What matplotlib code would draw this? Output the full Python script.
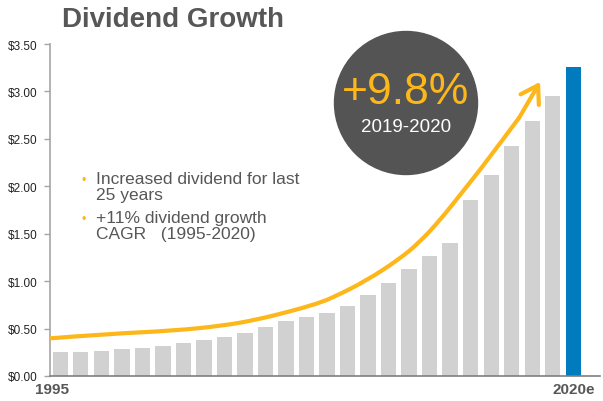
import numpy as np
import matplotlib
matplotlib.use("Agg")
import matplotlib.pyplot as plt
from matplotlib.patches import Ellipse, PathPatch
from matplotlib.path import Path
from matplotlib.transforms import ScaledTranslation

plt.rcParams['font.family'] = ['Liberation Sans', 'DejaVu Sans']

# dividend per share, 1995 - 2020e
years = [str(y) for y in range(1995, 2020)] + ['2020e']
dividends = [0.25, 0.256, 0.267, 0.285, 0.30, 0.316, 0.35, 0.38, 0.414, 0.456,
             0.52, 0.58, 0.62, 0.664, 0.74, 0.853, 0.98, 1.13, 1.26, 1.40,
             1.86, 2.12, 2.42, 2.69, 2.95, 3.26]

# growth trend arrow (x in bar index units, y in dollars)
trend_x = [-0.50, 2.26, 5.50, 7.93, 9.56, 11.18, 12.48, 13.28, 14.91, 16.53,
           17.50, 18.48, 19.45, 20.42, 21.40, 22.37, 23.38]
trend_y = [0.397, 0.443, 0.477, 0.530, 0.593, 0.680, 0.760, 0.826, 1.004, 1.233,
           1.409, 1.637, 1.900, 2.164, 2.445, 2.726, 3.101]

yticks = [0, 0.5, 1.0, 1.5, 2.0, 2.5, 3.0, 3.5]
bullets = ["Increased dividend for last\n25 years",
           "+11% dividend growth\nCAGR   (1995-2020)"]

ORANGE = '#FDB71A'
GRAY_BAR = '#D1D1D1'
BLUE = '#007BBD'
DARK = '#575757'

fig = plt.figure(figsize=(6.03, 4.02), dpi=100)
ax = fig.add_axes([50 / 603, 25 / 402, 550 / 603, 332 / 402])

x = np.arange(len(years))
colors = [GRAY_BAR] * (len(years) - 1) + [BLUE]
ax.bar(x, dividends, width=0.75, color=colors, zorder=2)

ax.set_xlim(-0.5, 26.3)
ax.set_ylim(0, 3.5)
ax.set_yticks(yticks)
ax.set_yticklabels(['${:.2f}'.format(v) for v in yticks], fontsize=8.5, color='#222222')
ax.set_xticks([0, len(years) - 1])
ax.set_xticklabels([years[0], years[-1]], fontsize=11, fontweight='bold', color=DARK)
ax.tick_params(axis='x', length=0, pad=4)
ax.tick_params(axis='y', length=4, width=1, color='#A6A6A6', pad=5)
# nudge the first year label a little to the left
first = ax.get_xticklabels()[0]
first.set_transform(first.get_transform() + ScaledTranslation(-8 / 100, 0, fig.dpi_scale_trans))

for side in ['top', 'right']:
    ax.spines[side].set_visible(False)
ax.spines['left'].set_color('#A6A6A6')
ax.spines['left'].set_linewidth(1.2)
ax.spines['bottom'].set_color('#7F7F7F')
ax.spines['bottom'].set_linewidth(1.2)

# trend line: smooth quadratic path through the midpoints of the points
pts = list(zip(trend_x[:-1], trend_y[:-1]))
verts = [pts[0]]
codes = [Path.MOVETO]
for i in range(1, len(pts) - 1):
    mid = ((pts[i][0] + pts[i + 1][0]) / 2, (pts[i][1] + pts[i + 1][1]) / 2)
    verts += [pts[i], mid]
    codes += [Path.CURVE3, Path.CURVE3]
verts.append(pts[-1])
codes.append(Path.LINETO)
ax.add_patch(PathPatch(Path(verts, codes), facecolor='none', edgecolor=ORANGE,
                       lw=3, capstyle='butt', zorder=3))
ax.annotate('', xy=(trend_x[-1], trend_y[-1]), xytext=(trend_x[-2], trend_y[-2]),
            arrowprops=dict(arrowstyle='->,head_length=0.6,head_width=0.38',
                            color=ORANGE, lw=3, shrinkA=0, shrinkB=0,
                            mutation_scale=20), zorder=3)

# title
fig.text(62 / 603, 1 - 20 / 402, "Dividend Growth", fontsize=20, fontweight='bold',
         color=DARK, va='center', ha='left')

# growth badge
fig.add_artist(Ellipse((406 / 603, 1 - 104 / 402), 2 * 71.5 / 603, 2 * 71.5 / 402,
                       color='#545454', zorder=5))
fig.text(406 / 603, 1 - 92 / 402, "+9.8%", fontsize=32, color=ORANGE,
         ha='center', va='center', zorder=6)
fig.text(406 / 603, 1 - 128 / 402, "2019-2020", fontsize=13.5, color='white',
         ha='center', va='center', zorder=6)

# bullet points
for txt, ypix in zip(bullets, [181, 220]):
    fig.text(81 / 603, 1 - ypix / 402, "•", fontsize=9, color=ORANGE,
             ha='left', va='center')
    fig.text(96 / 603, 1 - (ypix - 9) / 402, txt, fontsize=12.5, color=DARK,
             ha='left', va='top', linespacing=1.12)

fig.savefig('out.png', dpi=100)
